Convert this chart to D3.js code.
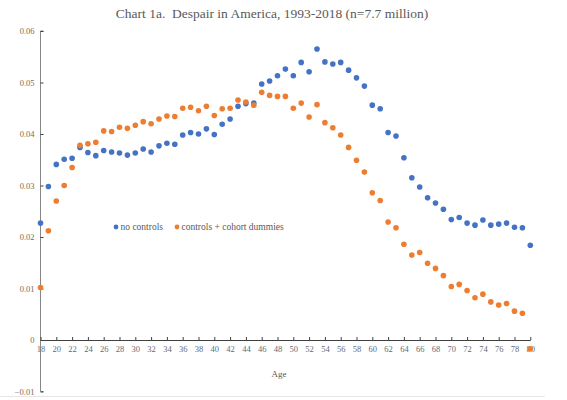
<!DOCTYPE html>
<html>
<head>
<meta charset="utf-8">
<script src="https://cdn.jsdelivr.net/npm/d3@7"></script>
<style>
  body { margin: 0; background: #fff; }
  text { font-family: "Liberation Serif", "Times New Roman", serif; }
</style>
</head>
<body>
<div id="chart-area"></div>
<script>
let ages = d3.range(18, 81)

let noControls = [
    0.0227, 0.0298, 0.0341, 0.0351, 0.0353, 0.0374, 0.0364, 0.0358, 0.0368, 0.0365,
    0.0363, 0.0359, 0.0363, 0.0371, 0.0365, 0.0377, 0.0382, 0.0380, 0.0398, 0.0403,
    0.0400, 0.0410, 0.0399, 0.0419, 0.0429, 0.0454, 0.0459, 0.0460, 0.0497, 0.0503,
    0.0513, 0.0526, 0.0513, 0.0539, 0.0521, 0.0565, 0.0540, 0.0536, 0.0539, 0.0524,
    0.0509, 0.0493, 0.0456, 0.0449, 0.0403, 0.0396, 0.0354, 0.0315, 0.0297, 0.0276,
    0.0266, 0.0254, 0.0234, 0.0238, 0.0227, 0.0223, 0.0233, 0.0223, 0.0225, 0.0227,
    0.0219, 0.0218, 0.0184
]

let withControls = [
    0.0102, 0.0212, 0.0270, 0.0300, 0.0335, 0.0378, 0.0381, 0.0384, 0.0406, 0.0405,
    0.0413, 0.0411, 0.0417, 0.0424, 0.0420, 0.0429, 0.0435, 0.0434, 0.0450, 0.0452,
    0.0445, 0.0454, 0.0436, 0.0449, 0.0450, 0.0466, 0.0462, 0.0456, 0.0481, 0.0475,
    0.0473, 0.0473, 0.0450, 0.0460, 0.0433, 0.0457, 0.0422, 0.0412, 0.0398, 0.0374,
    0.0349, 0.0326, 0.0286, 0.0271, 0.0229, 0.0218, 0.0186, 0.0165, 0.0170, 0.0149,
    0.0139, 0.0125, 0.0104, 0.0108, 0.0096, 0.0082, 0.0089, 0.0074, 0.0068, 0.0071,
    0.0056, 0.0052, -0.0017
]

let xTicks = d3.range(18, 81, 2)
let yTicks = [-0.01, 0, 0.01, 0.02, 0.03, 0.04, 0.05, 0.06]

let series = [
    { name: "no controls", values: noControls, color: "#4472C4" },
    { name: "controls + cohort dummies", values: withControls, color: "#ED7D31" }
]

let width = 567
let height = 400

let svg = d3.select("#chart-area")
            .append('svg')
            .attr('width', width)
            .attr('height', height)

svg.append('rect')
    .attr('width', width)
    .attr('height', height)
    .attr('fill', '#fff')

let xScale = d3.scaleLinear()
                .domain([18, 80])
                .range([40.5, 530.3])

let yScale = d3.scaleLinear()
                .domain([-0.01, 0.06])
                .range([391.5, 31])

// title
svg.append('text')
    .attr('x', 272)
    .attr('y', 18)
    .attr('text-anchor', 'middle')
    .attr('font-size', '13.5px')
    .attr('fill', '#595959')
    .style('white-space', 'pre')
    .text('Chart 1a.  Despair in America, 1993-2018 (n=7.7 million)')

// y axis
let yAxis = d3.axisRight(yScale)
                .tickValues(yTicks)
                .tickSize(3)
                .tickFormat(d => d3.format('')(+d.toFixed(2)))

let yg = svg.append('g')
    .attr('transform', `translate(${xScale(18)},0)`)
    .call(yAxis)
yg.select('.domain').attr('stroke', '#868686').attr('d', `M0,${yScale(-0.01)}H3M0,${yScale(-0.01)}V${yScale(0.06)}H3`)
yg.selectAll('.tick line').attr('stroke', '#404040')
yg.selectAll('.tick text')
    .attr('x', -6)
    .attr('text-anchor', 'end')
    .attr('font-size', '8.5px')
    .attr('font-family', '"Liberation Serif", serif')
    .attr('fill', '#7a6a55')

// x axis at y = 0
let xAxis = d3.axisTop(xScale)
                .tickValues(xTicks)
                .tickSize(3)
                .tickSizeOuter(0)

let xg = svg.append('g')
    .attr('transform', `translate(0,${yScale(0)})`)
    .call(xAxis)
xg.select('.domain').attr('stroke', '#404040')
xg.selectAll('.tick line').attr('stroke', '#404040')
xg.selectAll('.tick text')
    .attr('y', 12)
    .attr('font-size', '8.5px')
    .attr('font-family', '"Liberation Serif", serif')
    .attr('fill', '#5f6a7a')

svg.append('text')
    .attr('x', 279)
    .attr('y', 377)
    .attr('text-anchor', 'middle')
    .attr('font-size', '9px')
    .attr('fill', '#595959')
    .text('Age')

// points
series.forEach(s => {
    svg.append('g')
        .selectAll('circle')
        .data(ages.map((a, i) => ({ age: a, v: s.values[i] })))
        .enter()
        .append('circle')
        .attr('cx', d => xScale(d.age))
        .attr('cy', d => yScale(d.v))
        .attr('r', 2.8)
        .attr('fill', s.color)
})

// legend
let legend = svg.append('g')
let legendX = [116, 177]
series.forEach((s, i) => {
    legend.append('circle')
        .attr('cx', legendX[i])
        .attr('cy', 227)
        .attr('r', 2.4)
        .attr('fill', s.color)
    legend.append('text')
        .attr('x', legendX[i] + 4.5)
        .attr('y', 230)
        .attr('font-size', '9.5px')
        .attr('fill', '#595959')
        .text(s.name)
})

// bottom border line
svg.append('line')
    .attr('x1', 0)
    .attr('x2', 545)
    .attr('y1', 396.5)
    .attr('y2', 396.5)
    .attr('stroke', '#e6e6e6')
</script>
</body>
</html>
